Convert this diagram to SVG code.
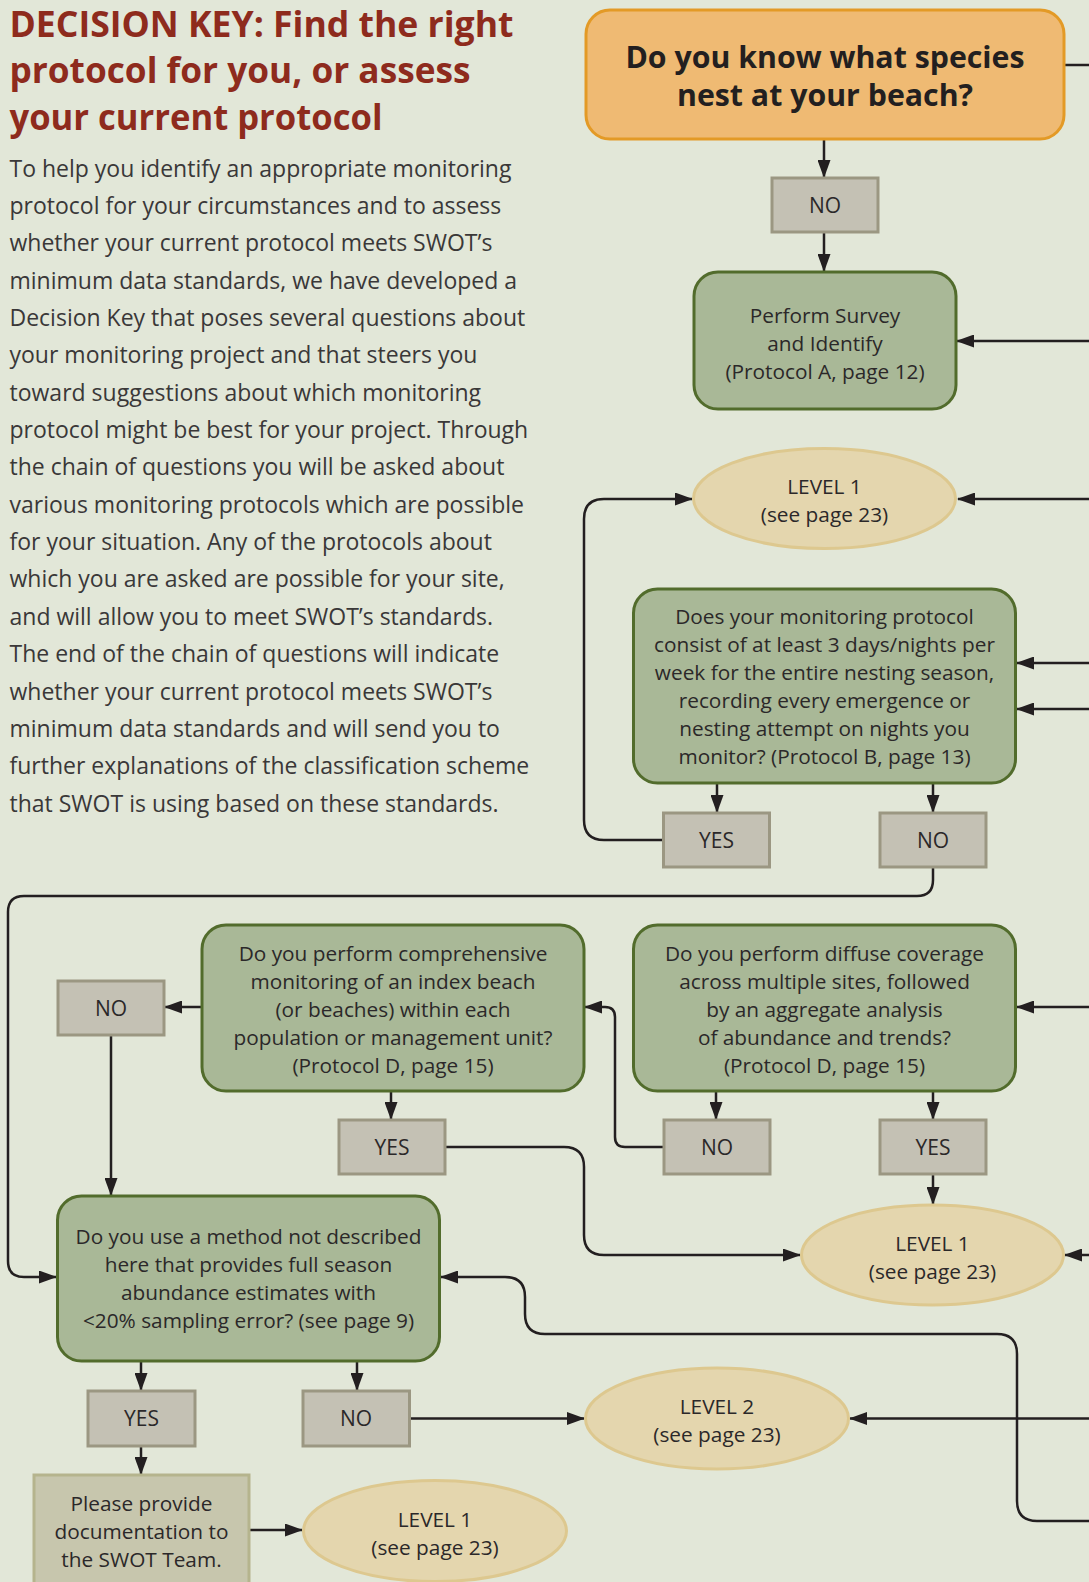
<svg xmlns="http://www.w3.org/2000/svg" width="1089" height="1582" viewBox="0 0 1089 1582">
<defs>
<style>
.title{font-family:"Open Sans","Liberation Sans",sans-serif;font-weight:700;font-size:35.5px;fill:#8E2B1D}
.body{font-family:"Open Sans","Liberation Sans",sans-serif;font-size:23px;fill:#3A3838}
.q{font-family:"Open Sans","Liberation Sans",sans-serif;font-weight:700;font-size:30.3px;fill:#231F20;text-anchor:middle}
.t{font-family:"Open Sans","Liberation Sans",sans-serif;font-size:20.8px;fill:#2B2829;text-anchor:middle}
.lbl{font-family:"Open Sans","Liberation Sans",sans-serif;font-size:21px;fill:#2B2829;text-anchor:middle}
.green{fill:#A9B897;stroke:#526C2C;stroke-width:3}
.grey{fill:#C4C1B4;stroke:#9B9782;stroke-width:3}
.lev{fill:#E4D6AE;stroke:#DDC88F;stroke-width:3}
.c{fill:none;stroke:#231F20;stroke-width:2.5}
.ca{fill:none;stroke:#231F20;stroke-width:2.5;marker-end:url(#ah)}
</style>
<marker id="ah" markerUnits="userSpaceOnUse" viewBox="0 0 18 13" refX="17" refY="6.5" markerWidth="18" markerHeight="13" orient="auto">
<path d="M0,0 L18,6.5 L0,13 z" fill="#231F20"/>
</marker>
</defs>
<rect width="1089" height="1582" fill="#E2E7D8"/>

<g id="intro">
<text class="title" x="9.5" y="36.5" textLength="504" lengthAdjust="spacingAndGlyphs">DECISION KEY: Find the right</text>
<text class="title" x="9.5" y="83" textLength="461" lengthAdjust="spacingAndGlyphs">protocol for you, or assess</text>
<text class="title" x="9.5" y="129.5" textLength="373" lengthAdjust="spacingAndGlyphs">your current protocol</text>
<text class="body" x="9.5" y="176.7">To help you identify an appropriate monitoring</text>
<text class="body" x="9.5" y="214">protocol for your circumstances and to assess</text>
<text class="body" x="9.5" y="251.4">whether your current protocol meets SWOT’s</text>
<text class="body" x="9.5" y="288.7">minimum data standards, we have developed a</text>
<text class="body" x="9.5" y="326.1">Decision Key that poses several questions about</text>
<text class="body" x="9.5" y="363.4">your monitoring project and that steers you</text>
<text class="body" x="9.5" y="400.7">toward suggestions about which monitoring</text>
<text class="body" x="9.5" y="438.1">protocol might be best for your project. Through</text>
<text class="body" x="9.5" y="475.4">the chain of questions you will be asked about</text>
<text class="body" x="9.5" y="512.8">various monitoring protocols which are possible</text>
<text class="body" x="9.5" y="550.1">for your situation. Any of the protocols about</text>
<text class="body" x="9.5" y="587.4">which you are asked are possible for your site,</text>
<text class="body" x="9.5" y="624.8">and will allow you to meet SWOT’s standards.</text>
<text class="body" x="9.5" y="662.1">The end of the chain of questions will indicate</text>
<text class="body" x="9.5" y="699.5">whether your current protocol meets SWOT’s</text>
<text class="body" x="9.5" y="736.8">minimum data standards and will send you to</text>
<text class="body" x="9.5" y="774.1">further explanations of the classification scheme</text>
<text class="body" x="9.5" y="811.5">that SWOT is using based on these standards.</text>
</g>

<g id="connectors">
<path class="c" d="M1064,65 H1090"/>
<path class="ca" d="M824,139 V177"/>
<path class="ca" d="M824,232 V271"/>
<path class="ca" d="M1090,341 H957"/>
<path class="ca" d="M1090,499 H958"/>
<path class="ca" d="M663,840 H604 Q584,840 584,820 V519 Q584,499 604,499 H692"/>
<path class="ca" d="M1090,663 H1017"/>
<path class="ca" d="M1090,709 H1017"/>
<path class="ca" d="M717,783 V812"/>
<path class="ca" d="M933,783 V812"/>
<path class="ca" d="M933,867 V880 Q933,896 917,896 H24 Q8,896 8,912 V1261 Q8,1277 24,1277 H56"/>
<path class="ca" d="M202,1007 H165"/>
<path class="ca" d="M111,1035 V1195"/>
<path class="ca" d="M391,1091 V1119"/>
<path class="ca" d="M446,1147 H564 Q584,1147 584,1167 V1235 Q584,1255 604,1255 H800"/>
<path class="ca" d="M1090,1007 H1017"/>
<path class="ca" d="M716,1091 V1119"/>
<path class="ca" d="M933,1091 V1119"/>
<path class="ca" d="M664,1147 H625 Q615,1147 615,1137 V1017 Q615,1007 605,1007 H585"/>
<path class="ca" d="M933,1175 V1204"/>
<path class="ca" d="M1090,1255 H1065"/>
<path class="ca" d="M1090,1521 H1037 Q1017,1521 1017,1501 V1354 Q1017,1334 997,1334 H545 Q525,1334 525,1314 V1297 Q525,1277 505,1277 H441"/>
<path class="ca" d="M141,1361 V1390"/>
<path class="ca" d="M357,1361 V1390"/>
<path class="ca" d="M409.5,1418.5 H584"/>
<path class="ca" d="M1090,1418.5 H850"/>
<path class="ca" d="M141,1446 V1474"/>
<path class="ca" d="M249,1530 H302"/>
</g>

<g id="q-species">
<rect x="586" y="10" width="478" height="129" rx="24" fill="#EFBA73" stroke="#E39A26" stroke-width="3"/>
<text class="q" x="825" y="68">Do you know what species</text>
<text class="q" x="825" y="106">nest at your beach?</text>
</g>
<g id="no-species">
<rect class="grey" x="772" y="178" width="106" height="54"/>
<text class="lbl" x="825" y="213">NO</text>
</g>
<g id="protocol-a">
<rect class="green" x="694" y="272" width="262" height="137" rx="24"/>
<text class="t" x="825" y="323">Perform Survey</text>
<text class="t" x="825" y="351">and Identify</text>
<text class="t" x="825" y="379">(Protocol A, page 12)</text>
</g>
<g id="level1-top">
<ellipse class="lev" cx="824.5" cy="498.5" rx="131" ry="50"/>
<text class="t" x="824.5" y="494">LEVEL 1</text>
<text class="t" x="824.5" y="522">(see page 23)</text>
</g>
<g id="protocol-b">
<rect class="green" x="633.5" y="589" width="382" height="194" rx="24"/>
<text class="t" x="824.5" y="624">Does your monitoring protocol</text>
<text class="t" x="824.5" y="652">consist of at least 3 days/nights per</text>
<text class="t" x="824.5" y="680">week for the entire nesting season,</text>
<text class="t" x="824.5" y="708">recording every emergence or</text>
<text class="t" x="824.5" y="736">nesting attempt on nights you</text>
<text class="t" x="824.5" y="764">monitor? (Protocol B, page 13)</text>
</g>
<g id="yes-b">
<rect class="grey" x="663.5" y="813" width="106" height="54"/>
<text class="lbl" x="716.5" y="848">YES</text>
</g>
<g id="no-b">
<rect class="grey" x="880" y="813" width="106" height="54"/>
<text class="lbl" x="933" y="848">NO</text>
</g>
<g id="protocol-d-index">
<rect class="green" x="202" y="925" width="382" height="166" rx="24"/>
<text class="t" x="393" y="961">Do you perform comprehensive</text>
<text class="t" x="393" y="989">monitoring of an index beach</text>
<text class="t" x="393" y="1017">(or beaches) within each</text>
<text class="t" x="393" y="1045">population or management unit?</text>
<text class="t" x="393" y="1073">(Protocol D, page 15)</text>
</g>
<g id="no-index">
<rect class="grey" x="58" y="981" width="106" height="54"/>
<text class="lbl" x="111" y="1016">NO</text>
</g>
<g id="yes-index">
<rect class="grey" x="339" y="1120" width="106" height="54"/>
<text class="lbl" x="392" y="1155">YES</text>
</g>
<g id="protocol-d-diffuse">
<rect class="green" x="633.5" y="925" width="382" height="166" rx="24"/>
<text class="t" x="824.5" y="961">Do you perform diffuse coverage</text>
<text class="t" x="824.5" y="989">across multiple sites, followed</text>
<text class="t" x="824.5" y="1017">by an aggregate analysis</text>
<text class="t" x="824.5" y="1045">of abundance and trends?</text>
<text class="t" x="824.5" y="1073">(Protocol D, page 15)</text>
</g>
<g id="no-diffuse">
<rect class="grey" x="664" y="1120" width="106" height="54"/>
<text class="lbl" x="717" y="1155">NO</text>
</g>
<g id="yes-diffuse">
<rect class="grey" x="880" y="1120" width="106" height="54"/>
<text class="lbl" x="933" y="1155">YES</text>
</g>
<g id="level1-mid">
<ellipse class="lev" cx="932.5" cy="1255" rx="131" ry="50"/>
<text class="t" x="932.5" y="1250.5">LEVEL 1</text>
<text class="t" x="932.5" y="1278.5">(see page 23)</text>
</g>
<g id="method-other">
<rect class="green" x="57.5" y="1196" width="382" height="165" rx="24"/>
<text class="t" x="248.5" y="1244">Do you use a method not described</text>
<text class="t" x="248.5" y="1272">here that provides full season</text>
<text class="t" x="248.5" y="1300">abundance estimates with</text>
<text class="t" x="248.5" y="1328">&lt;20% sampling error? (see page 9)</text>
</g>
<g id="yes-method">
<rect class="grey" x="88" y="1391" width="107" height="55"/>
<text class="lbl" x="141.5" y="1426">YES</text>
</g>
<g id="no-method">
<rect class="grey" x="303" y="1391" width="106.5" height="55"/>
<text class="lbl" x="356" y="1426">NO</text>
</g>
<g id="level2">
<ellipse class="lev" cx="717" cy="1418.5" rx="131.5" ry="50.5"/>
<text class="t" x="717" y="1414">LEVEL 2</text>
<text class="t" x="717" y="1442">(see page 23)</text>
</g>
<g id="documentation">
<rect x="34" y="1475" width="215" height="120" fill="#C7C6AD" stroke="#B5B48D" stroke-width="3"/>
<text class="t" x="141.5" y="1511">Please provide</text>
<text class="t" x="141.5" y="1539">documentation to</text>
<text class="t" x="141.5" y="1567">the SWOT Team.</text>
</g>
<g id="level1-bottom">
<ellipse class="lev" cx="435" cy="1531" rx="131.5" ry="50.5"/>
<text class="t" x="435" y="1526.5">LEVEL 1</text>
<text class="t" x="435" y="1554.5">(see page 23)</text>
</g>
</svg>
